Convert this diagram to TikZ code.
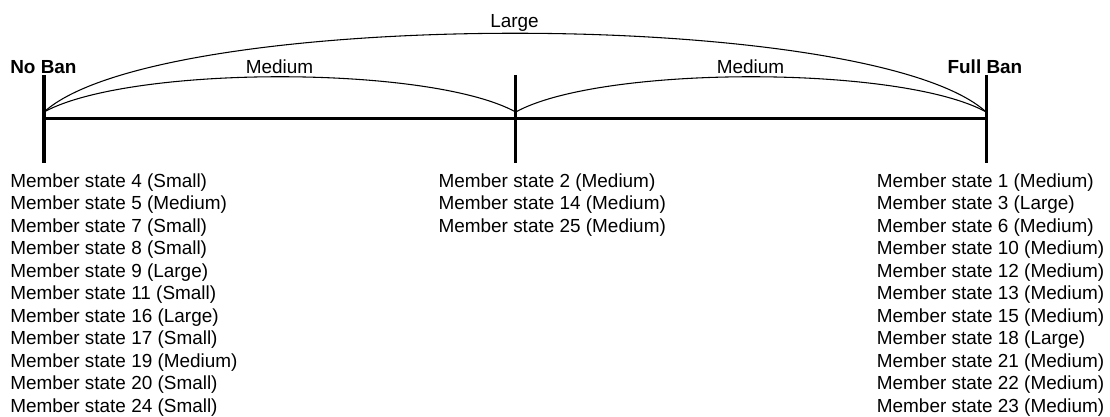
\documentclass[tikz,border=0pt]{standalone}
\usepackage{fontspec}
\setmainfont{Liberation Sans}
\begin{document}
\begin{tikzpicture}[x=0.75pt,y=-0.75pt,
  every node/.style={inner sep=0pt,outer sep=0pt,font=\fontsize{14.2}{17}\selectfont},
  axis/.style={line width=2.3pt,line cap=butt},
  tickmark/.style={line width=2.3pt,line cap=butt},
  span/.style={line width=0.8pt},
  endlabel/.style={anchor=base west,font=\fontsize{14.2}{17}\selectfont\bfseries},
  spanlabel/.style={anchor=base},
  entry/.style={anchor=base west}]
\useasboundingbox (0,0) rectangle (1110,417);

% scale positions
\coordinate (noban) at (44,118.7);
\coordinate (mid) at (515.7,118.7);
\coordinate (fullban) at (986.2,118.7);
\coordinate (nobantop) at (44,75);
\coordinate (nobanbot) at (44,163);
\coordinate (midtop) at (515.7,75);
\coordinate (midbot) at (515.7,163);
\coordinate (fullbantop) at (986.2,75);
\coordinate (fullbanbot) at (986.2,163);
% arc end points on the ticks
\coordinate (a0) at (44,112);
\coordinate (a1) at (515.7,112);
\coordinate (a2) at (986.2,112);

% axis and ticks
\draw[axis] (noban) -- (fullban);
\draw[tickmark] (nobantop) -- (nobanbot);
\draw[tickmark] (midtop) -- (midbot);
\draw[tickmark] (fullbantop) -- (fullbanbot);

% distance arcs
\draw[span] (a0) .. controls (160,7) and (870,7) .. (a2);
\draw[span] (a0) .. controls (130,65) and (430,65) .. (a1);
\draw[span] (a1) .. controls (601,65) and (901,65) .. (a2);

% labels
\node[spanlabel] (large) at (514.5,28) {Large};
\node[spanlabel] (medl) at (279.5,73.6) {Medium};
\node[spanlabel] (medr) at (750.5,73.6) {Medium};
\node[endlabel] (nobanlbl) at (10.3,74) {No Ban};
\node[endlabel] (fullbanlbl) at (947.6,74) {Full Ban};

% member states at each position
\foreach \t [count=\i from 0] in {4 (Small),5 (Medium),7 (Small),8 (Small),9 (Large),11 (Small),16 (Large),17 (Small),19 (Medium),20 (Small),24 (Small)}
  \node[entry] (left\i) at (10.3,187.3+22.5*\i) {Member state \t};
\foreach \t [count=\i from 0] in {2 (Medium),14 (Medium),25 (Medium)}
  \node[entry] (centre\i) at (438.6,187.3+22.5*\i) {Member state \t};
\foreach \t [count=\i from 0] in {1 (Medium),3 (Large),6 (Medium),10 (Medium),12 (Medium),13 (Medium),15 (Medium),18 (Large),21 (Medium),22 (Medium),23 (Medium)}
  \node[entry] (right\i) at (876.9,187.3+22.5*\i) {Member state \t};
\end{tikzpicture}
\end{document}
